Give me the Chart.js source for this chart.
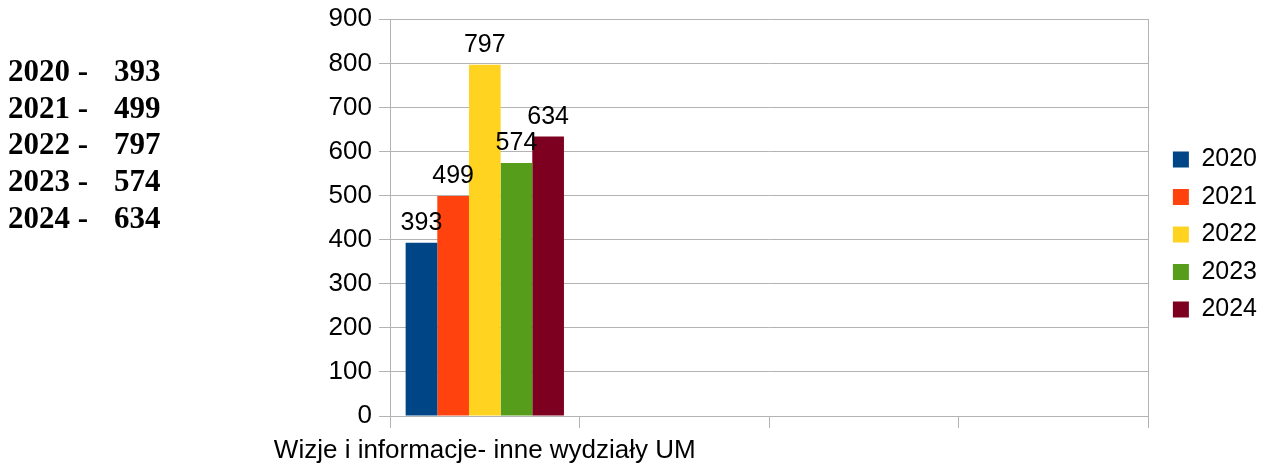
<!DOCTYPE html>
<html lang="pl">
<head>
<meta charset="utf-8">
<title>Wizje i informacje</title>
<script src="https://cdn.jsdelivr.net/npm/chart.js@4"></script>
<style>
    body { margin: 0; background: #fff; }
    #wrap { position: relative; width: 1267px; height: 465px; }
    #wykres { position: absolute; left: 0; top: 0; }
    #lista {
        position: absolute; left: 8px; top: 53px;
        font: bold 31px "Liberation Serif", "Times New Roman", serif;
        line-height: 36.67px; color: #000;
    }
    #lista .rok { display: inline-block; width: 106px; }
</style>
</head>
<body>
<div id="wrap">
    <canvas id="wykres" width="1267" height="465"></canvas>
    <div id="lista"></div>
</div>
<script>
// --- Dane ---
const kategorie = ['Wizje i informacje- inne wydziały UM', '', '', ''];
const lata = ['2020', '2021', '2022', '2023', '2024'];
const wartosci = [393, 499, 797, 574, 634];
const kolory = ['#004586', '#ff420e', '#ffd320', '#579d1c', '#7e0021'];
const osY = { min: 0, max: 900, krok: 100 };

const SZARY = '#b3b3b3';
let wykres = null;

// lista po lewej stronie
function pokazListe() {
    const div = document.getElementById('lista');
    div.innerHTML = lata.map((rok, i) =>
        `<div><span class="rok">${rok} -</span><span>${wartosci[i]}</span></div>`
    ).join('');
}

// etykiety wartości nad słupkami
const etykietyPlugin = {
    id: 'etykiety',
    afterDatasetsDraw(chart) {
        const ctx = chart.ctx;
        ctx.save();
        ctx.font = '25px "Liberation Sans", Arial, sans-serif';
        ctx.fillStyle = '#000';
        ctx.textAlign = 'center';
        ctx.textBaseline = 'alphabetic';
        chart.data.datasets.forEach((ds, i) => {
            chart.getDatasetMeta(i).data.forEach((bar, j) => {
                if (ds.data[j] === null) return;
                ctx.fillText(String(ds.data[j]), bar.x, bar.y - 13);
            });
        });
        ctx.restore();
    }
};

function rysujWykres() {
    const ctx = document.getElementById('wykres').getContext('2d');
    Chart.defaults.font.family = '"Liberation Sans", Arial, sans-serif';
    Chart.defaults.color = '#000';

    const datasets = lata.map((rok, i) => ({
        label: rok,
        data: kategorie.map((k, j) => j === 0 ? wartosci[i] : null),
        backgroundColor: kolory[i],
        borderWidth: 0,
        categoryPercentage: 0.835,
        barPercentage: 1
    }));

    wykres = new Chart(ctx, {
        type: 'bar',
        data: { labels: kategorie, datasets: datasets },
        plugins: [etykietyPlugin],
        options: {
            responsive: false,
            animation: false,
            layout: { padding: { top: 4, bottom: 0, left: 0, right: 0 } },
            plugins: {
                tooltip: { enabled: false },
                legend: {
                    position: 'right',
                    labels: { boxWidth: 16, boxHeight: 16, padding: 12.5, font: { size: 25 }, color: '#000' }
                }
            },
            scales: {
                x: {
                    grid: { drawOnChartArea: false, color: SZARY, tickLength: 12 },
                    border: { display: true, color: SZARY },
                    ticks: { font: { size: 26 }, padding: 7, maxRotation: 0, autoSkip: false },
                    afterFit: (s) => { s.height = 49; }
                },
                y: {
                    min: osY.min, max: osY.max,
                    ticks: { stepSize: osY.krok, font: { size: 26 }, padding: 7 },
                    grid: { color: SZARY, tickLength: 11 },
                    border: { display: true, color: SZARY },
                    afterFit: (s) => { s.width = 390; s.paddingTop = 19.3; s.paddingBottom = 0; }
                },
                y2: {
                    position: 'right',
                    min: osY.min, max: osY.max,
                    ticks: { display: false },
                    grid: { display: false },
                    border: { display: true, color: SZARY },
                    afterFit: (s) => { s.width = 12; }
                }
            }
        }
    });
}

pokazListe();
rysujWykres();
</script>
</body>
</html>
